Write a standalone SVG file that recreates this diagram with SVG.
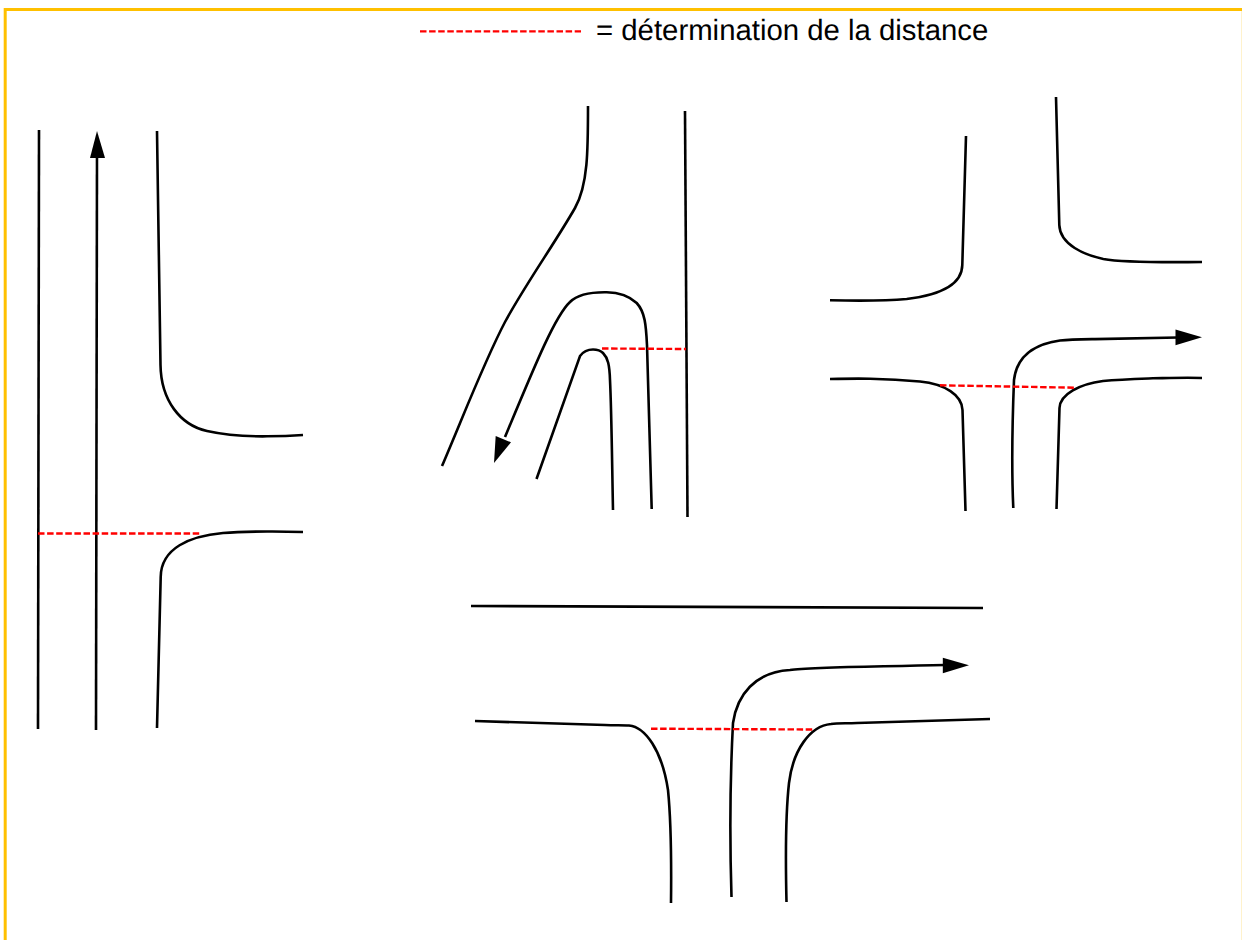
<svg xmlns="http://www.w3.org/2000/svg" width="1242" height="940" viewBox="0 0 1242 940">
<style>
.r{fill:none;stroke:#000;stroke-width:2.6;stroke-linecap:butt}
.d{fill:none;stroke:#f00;stroke-width:2.4;stroke-dasharray:6.500 2.600}
.a{fill:#000;stroke:none}
.t{font-family:"Liberation Sans",Arial,sans-serif;font-size:29.350px;fill:#000;text-rendering:geometricPrecision}
</style>
<rect width="1242" height="940" fill="#fff"/>
<g id="frame">
<path d="M5.200 940V9.500H1242" fill="none" stroke="#ffc000" stroke-width="3"/>
<path d="M1241.500 11V940" fill="none" stroke="#fff2cc" stroke-width="1"/>
</g>
<g id="legend">
<path class="d" d="M420 31.400H581"/>
<text class="t" x="596" y="40">= détermination de la distance</text>
</g>
<g id="connectors">
<g id="junction-left">
<path class="r" d="M39 130L38 729"/>
<path class="r" d="M96 730L97 150"/>
<polygon class="a" points="97,131 105,158 90,158"/>
<path class="r" d="M157 131L160.500 365C161 400 180 425 207 431C225 435 250 436.500 267 436.300C280 436.300 290 436 303 435"/>
<path class="r" d="M303 532C290 531.600 280 531.400 267 531.500C250 531.600 235 532 223 533C190 536 161 548 160.700 577L157 728"/>
<path class="d" d="M38 533.500H200"/>
</g>
<g id="junction-middle">
<path class="r" d="M588 106C588 150 588 185 575 208C555 243 525 285 505 322C485 360 465 412 442 466"/>
<path class="r" d="M685 111L687.500 517"/>
<path class="r" d="M651.700 509L647 345C646 325 645 312 636.700 303C628 295 618 292.500 606.700 292.300C590 292 577 295 570 302C555 316 535 365 505 437"/>
<polygon class="a" points="494,463 511,442.300 495.700,436"/>
<path class="r" d="M613 510C612 460 611.500 410 610 380C609.500 365 608 358 603 353C600 350 597 349.500 593 349.500C588 349.500 583 352 580 356L536.500 479"/>
<path class="d" d="M602 348.500L686 349"/>
</g>
<g id="junction-right">
<path class="r" d="M966 136L962.300 265C962 285 940 295 906.700 299C885 301 860 301 830 300.300"/>
<path class="r" d="M1056 97L1059.300 225C1060 245 1085 255 1103.300 259C1120 262 1160 262.500 1202 262"/>
<path class="r" d="M830 379C850 378.500 860 378.500 870 378.700C890 379 905 380 920 381.500C945 384 962 395 962.500 410L965.500 511"/>
<path class="r" d="M1202 378C1185 377.500 1170 378 1153 378.300C1135 379 1120 379.500 1103 381C1080 384 1060 394 1059.500 408L1056.500 509"/>
<path class="r" d="M1013.300 508C1012 480 1012 430 1014 380C1017 355 1035 344 1060 340.500C1070 339.500 1085 339.300 1095 339.100L1178 337.500"/>
<polygon class="a" points="1202,337.300 1175.500,345.300 1175.500,329.500"/>
<path class="d" d="M940 385.300L1075 387.700"/>
</g>
<g id="junction-bottom">
<path class="r" d="M471 606L983 608"/>
<path class="r" d="M475 721L605 725C615 725.500 622 725 629 725.500C645 727 662 750 668 790C671 820 671.500 860 671 903"/>
<path class="r" d="M990 719L857 723C845 723.500 838 723 831 724C810 726 793 750 789 783C786 810 785.500 860 786.500 902"/>
<path class="r" d="M731.500 897C730 850 730 780 733 723C737 695 755 672 790 670C810 667 860 667 945 665"/>
<polygon class="a" points="969,665.300 942.800,673.300 942.800,657.700"/>
<path class="d" d="M651 728.700L813 729.500"/>
</g>
</g>
</svg>
